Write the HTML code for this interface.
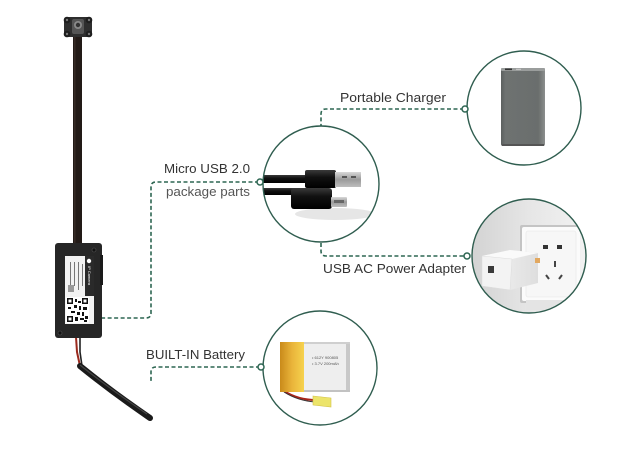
<!DOCTYPE html>
<html><head><meta charset="utf-8"><style>
html,body{margin:0;padding:0;background:#fff;}
svg{display:block}
text{font-family:"Liberation Sans",sans-serif;}
</style></head><body>
<svg width="626" height="450" viewBox="0 0 626 450" xmlns="http://www.w3.org/2000/svg">
<defs>
<clipPath id="cUsb"><circle cx="321" cy="184" r="58"/></clipPath>
<clipPath id="cAd"><circle cx="529" cy="256" r="57"/></clipPath>
<clipPath id="cBat"><circle cx="320" cy="368" r="57"/></clipPath>
<linearGradient id="gAd" x1="0" x2="1" y1="0" y2="0"><stop offset="0" stop-color="#d2d2d2"/><stop offset="0.5" stop-color="#e6e6e6"/><stop offset="1" stop-color="#f2f2f2"/></linearGradient>
<linearGradient id="gPb" x1="0" x2="1" y1="0" y2="0"><stop offset="0" stop-color="#5c605f"/><stop offset="0.1" stop-color="#6e7271"/><stop offset="0.85" stop-color="#6a6e6d"/><stop offset="1" stop-color="#8c8f8e"/></linearGradient>
<linearGradient id="gCab" x1="0" x2="0" y1="0" y2="1"><stop offset="0" stop-color="#3a3a3a"/><stop offset="0.4" stop-color="#111"/><stop offset="1" stop-color="#000"/></linearGradient>
<linearGradient id="gMet" x1="0" x2="0" y1="0" y2="1"><stop offset="0" stop-color="#d8d8d8"/><stop offset="0.5" stop-color="#9a9a9a"/><stop offset="1" stop-color="#bdbdbd"/></linearGradient>
<linearGradient id="gYel" x1="0" x2="1" y1="0" y2="0"><stop offset="0" stop-color="#c98a1a"/><stop offset="0.5" stop-color="#e9b43a"/><stop offset="1" stop-color="#f6d24e"/></linearGradient>
<linearGradient id="gCube" x1="0" x2="1" y1="0" y2="0"><stop offset="0" stop-color="#f4f4f4"/><stop offset="1" stop-color="#dedede"/></linearGradient>
</defs>

<!-- ===== camera device ===== -->
<rect x="73" y="32" width="9" height="214" fill="#221a17"/>
<rect x="74" y="32" width="1.5" height="214" fill="#352a25"/>
<rect x="64" y="17" width="28" height="20" rx="3" fill="#2e2e2e"/>
<circle cx="67" cy="20" r="3.3" fill="#1e1e1e"/><circle cx="89" cy="20" r="3.3" fill="#1e1e1e"/>
<circle cx="67" cy="34" r="3.3" fill="#1e1e1e"/><circle cx="89" cy="34" r="3.3" fill="#1e1e1e"/>
<circle cx="67" cy="20" r="1.2" fill="#777"/><circle cx="89" cy="20" r="1.2" fill="#777"/>
<circle cx="67" cy="34" r="1.2" fill="#777"/><circle cx="89" cy="34" r="1.2" fill="#777"/>
<rect x="72" y="19" width="12" height="15" rx="2" fill="#555"/>
<circle cx="78" cy="25" r="4" fill="#8a8a8a"/><circle cx="78" cy="25" r="2.2" fill="#333"/>
<path d="M76,337 L77,352 L80,366" stroke="#9a2a1e" stroke-width="2" fill="none"/>
<path d="M80,337 L80,352 L82,366" stroke="#222" stroke-width="1.6" fill="none"/>
<path d="M80,366 Q112,392 150,418" stroke="#1a1a1a" stroke-width="6" stroke-linecap="round" fill="none"/>
<path d="M80,365 Q110,389 147,414" stroke="#444" stroke-width="1.2" fill="none"/>
<rect x="55" y="243" width="47" height="95" rx="3" fill="#262626"/>
<rect x="100" y="255" width="3" height="30" fill="#1a1a1a"/>
<circle cx="94" cy="250" r="2" fill="#111" stroke="#555" stroke-width="0.6"/>
<circle cx="60" cy="333" r="2" fill="#111" stroke="#555" stroke-width="0.6"/>
<rect x="65" y="256" width="29" height="68" fill="#f2f2f2"/>
<rect x="85" y="256" width="9" height="40" fill="#2a2a2a"/>
<text x="0" y="0" font-size="4" fill="#fff" transform="translate(88,266) rotate(90)">IP Camera</text>
<circle cx="89" cy="261" r="2.2" fill="#fff"/>
<g fill="#777">
<rect x="70" y="262" width="1" height="26"/><rect x="74" y="262" width="1" height="24"/><rect x="78" y="262" width="1" height="28"/><rect x="82" y="264" width="1" height="22"/>
</g>
<rect x="68" y="285" width="6" height="7" fill="#999"/>
<g fill="#111">
<rect x="66" y="297" width="23" height="26" fill="#fff"/>
<rect x="67" y="298" width="6" height="6"/><rect x="82" y="298" width="6" height="6"/><rect x="67" y="316" width="6" height="6"/>
<rect x="75" y="299" width="2" height="3"/><rect x="78" y="301" width="3" height="2"/><rect x="74" y="305" width="3" height="3"/>
<rect x="68" y="307" width="3" height="2"/><rect x="79" y="306" width="2" height="4"/><rect x="83" y="307" width="4" height="3"/>
<rect x="71" y="311" width="4" height="2"/><rect x="77" y="312" width="3" height="3"/><rect x="82" y="312" width="2" height="4"/>
<rect x="75" y="317" width="3" height="4"/><rect x="80" y="318" width="4" height="2"/><rect x="85" y="316" width="3" height="3"/><rect x="84" y="320" width="3" height="2"/>
</g>
<rect x="68.5" y="299.5" width="3" height="3" fill="#fff"/><rect x="83.5" y="299.5" width="3" height="3" fill="#fff"/><rect x="68.5" y="317.5" width="3" height="3" fill="#fff"/>

<!-- ===== connectors ===== -->
<g stroke="#2d6652" stroke-width="1.6" fill="none" stroke-dasharray="4 2.5">
<path d="M259,182 L156,182 Q151,182 151,187 L151,313 Q151,318 146,318 L102,318"/>
<path d="M260,367 L156,367 Q151,367 151,372 L151,381"/>
<path d="M464,109 L326,109 Q321,109 321,114 L321,126"/>
<path d="M321,243 L321,251 Q321,256 326,256 L465,256"/>
</g>

<!-- ===== USB cable circle ===== -->
<circle cx="321" cy="184" r="58" fill="#fff"/>
<g clip-path="url(#cUsb)">
<ellipse cx="335" cy="214" rx="40" ry="6" fill="#e6e6e6"/>
<rect x="255" y="175" width="55" height="8" fill="url(#gCab)"/>
<rect x="305" y="170" width="31" height="18" rx="2" fill="url(#gCab)"/>
<rect x="335" y="172" width="26" height="15" fill="url(#gMet)"/>
<rect x="342" y="176" width="5" height="2" fill="#555"/><rect x="351" y="176" width="5" height="2" fill="#555"/>
<rect x="255" y="188" width="40" height="7" fill="url(#gCab)"/>
<rect x="291" y="188" width="41" height="21" rx="3" fill="url(#gCab)"/>
<rect x="331" y="197" width="16" height="10" rx="1" fill="url(#gMet)"/>
<rect x="334" y="200" width="10" height="3" fill="#666"/>
</g>
<circle cx="321" cy="184" r="58" fill="none" stroke="#2f5d4f" stroke-width="1.4"/>

<!-- ===== portable charger ===== -->
<circle cx="524" cy="108" r="57" fill="#fff" stroke="#2f5d4f" stroke-width="1.4"/>
<rect x="501" y="68" width="44" height="78" rx="2" fill="url(#gPb)"/>
<rect x="501" y="68" width="44" height="3" rx="1" fill="#9a9d9c"/>
<rect x="505" y="68.5" width="7" height="1.6" fill="#333"/>
<rect x="516" y="68.8" width="5" height="1" fill="#ccc"/>
<rect x="502" y="144" width="42" height="2" fill="#555"/>

<!-- ===== adapter ===== -->
<g clip-path="url(#cAd)">
<rect x="470" y="198" width="118" height="118" fill="url(#gAd)"/>
<rect x="520" y="225" width="60" height="78" rx="2" fill="#c4c4c4"/>
<rect x="522" y="227" width="58" height="74" rx="2" fill="#fbfbfb"/>
<rect x="526" y="231" width="50" height="66" rx="2" fill="#f7f7f7" stroke="#e6e6e6" stroke-width="0.6"/>
<rect x="543" y="245" width="5" height="4" fill="#333"/><rect x="557" y="245" width="5" height="4" fill="#333"/>
<rect x="554" y="261" width="2" height="6" fill="#444"/>
<path d="M546,275 L549,279" stroke="#444" stroke-width="2"/><path d="M562,275 L559,279" stroke="#444" stroke-width="2"/>
<rect x="526" y="300" width="60" height="10" fill="#e4e4e4"/>
<polygon points="482,256 510,250 538,253 538,283 510,290 482,286" fill="url(#gCube)"/>
<polygon points="482,256 510,250 538,253 512,259" fill="#fafafa"/>
<polygon points="482,256 512,259 510,290 482,286" fill="#f3f3f3" stroke="#dcdcdc" stroke-width="0.5"/>
<rect x="488" y="266" width="6" height="7" fill="#3a3a3a"/>
<rect x="535" y="258" width="5" height="5" fill="#e2a860"/>
</g>
<circle cx="529" cy="256" r="57" fill="none" stroke="#2f5d4f" stroke-width="1.4"/>

<!-- ===== battery ===== -->
<circle cx="320" cy="368" r="57" fill="#fff"/>
<g clip-path="url(#cBat)">
<path d="M284,391 Q298,400 316,400" stroke="#a8261a" stroke-width="2" fill="none"/>
<path d="M284,392 Q298,401 316,402" stroke="#333" stroke-width="1" fill="none"/>
<polygon points="313,396 331,398 331,407 313,405" fill="#ece46a" stroke="#d2c24a" stroke-width="0.6"/>
<rect x="280" y="342" width="70" height="50" fill="#dcdcdc"/>
<rect x="280" y="342" width="24" height="50" fill="url(#gYel)"/>
<rect x="304" y="342" width="42" height="50" fill="#eeeeee"/>
<rect x="346" y="342" width="4" height="50" fill="#c8c8c8"/>
<rect x="304" y="342" width="46" height="2" fill="#cfcfcf"/>
<rect x="304" y="390" width="46" height="2" fill="#c2c2c2"/>
<text x="312" y="359" font-size="4" fill="#555">• 612Y 900805</text>
<text x="312" y="365" font-size="4" fill="#555">• 3.7V 200mAh</text>
</g>
<circle cx="320" cy="368" r="57" fill="none" stroke="#2f5d4f" stroke-width="1.4"/>

<g fill="#fff" stroke="#2d6652" stroke-width="1.5">
<circle cx="260" cy="182" r="3"/>
<circle cx="261" cy="367" r="3"/>
<circle cx="465" cy="109" r="3"/>
<circle cx="467" cy="256" r="3"/>
</g>

<!-- ===== labels ===== -->
<g font-size="13" fill="#333">
<text x="164" y="173" textLength="86" lengthAdjust="spacingAndGlyphs">Micro USB 2.0</text>
<text x="166" y="196" textLength="84" lengthAdjust="spacingAndGlyphs" fill="#555">package parts</text>
<text x="146" y="359" textLength="99" lengthAdjust="spacingAndGlyphs">BUILT-IN Battery</text>
<text x="340" y="102" textLength="106" lengthAdjust="spacingAndGlyphs">Portable Charger</text>
<text x="323" y="273" textLength="143" lengthAdjust="spacingAndGlyphs">USB AC Power Adapter</text>
</g>
</svg>
</body></html>
